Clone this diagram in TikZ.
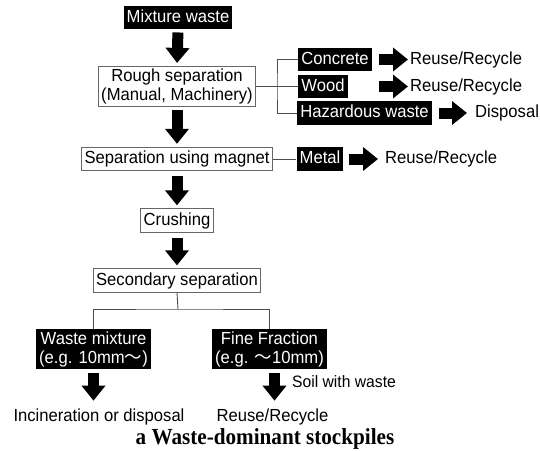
\documentclass[tikz,border=0pt]{standalone}
\usepackage{fontspec}
\setmainfont[FakeStretch=0.95]{Liberation Sans}
\newfontfamily\capfont[FakeStretch=0.92]{Liberation Serif}
\newfontfamily\cjk{Noto Sans CJK JP}
\usetikzlibrary{arrows.meta}
\newcommand{\wv}{{\cjk ～}}
\begin{document}
\begin{tikzpicture}[x=1pt,y=-1pt,
  every node/.style={font=\fontsize{17.5}{19}\selectfont},
  blackbox/.style={fill=black,text=white,inner xsep=3pt,inner ysep=3.5pt,text height=13pt,text depth=3.5pt,align=center},
  blackbox2/.style={fill=black,text=white,inner xsep=3pt,inner ysep=2.5pt,align=center},
  whitebox/.style={draw=black!60,line width=0.8pt,fill=white,inner xsep=3pt,inner ysep=3.5pt,text height=13pt,text depth=3.5pt,align=center},
  whitebox2/.style={draw=black!60,line width=0.8pt,fill=white,inner xsep=3pt,inner ysep=2.5pt,align=center},
  plain/.style={inner xsep=0pt,inner ysep=2pt},
  blockdown/.style={line width=11pt,-{Triangle[width=23pt,length=15pt]},shorten <=3pt,shorten >=3pt},
  blockright/.style={line width=11pt,-{Triangle[width=23pt,length=15pt]}},
  thin/.style={draw=black!70,line width=0.9pt}
]
\useasboundingbox (0,0) rectangle (540,450);
% main column
\node[blackbox] (mix) at (178,17.5) {Mixture waste};
\node[whitebox2] (rough) at (177,86.5) {Rough separation\\(Manual, Machinery)};
\node[whitebox] (magnet) at (177,159) {Separation using magnet};
\node[whitebox] (crush) at (177,220.5) {Crushing};
\node[whitebox] (second) at (177,280.5) {Secondary separation};
% side branches
\node[blackbox] (concrete) at (335,59.5) {Concrete};
\node[blackbox] (wood) at (323,86.5) {Wood};
\node[blackbox] (haz) at (364.5,113) {Hazardous waste};
\node[plain,anchor=west] (rr1) at (410,59.5) {Reuse/Recycle};
\node[plain,anchor=west] (rr2) at (410,86.5) {Reuse/Recycle};
\node[plain,anchor=west] (disp) at (475,113) {Disposal};
\node[blackbox] (metal) at (320,159) {Metal};
\node[plain,anchor=west] (rr3) at (385,159) {Reuse/Recycle};
% bottom
\node[blackbox2] (wmix) at (93.5,349) {Waste mixture\\(e.g. 10mm\wv)};
\node[blackbox2] (fine) at (269.5,349) {Fine Fraction\\(e.g. \wv10mm)};
\node[plain] (incin) at (99,417) {Incineration or disposal};
\node[plain] (rr4) at (272.5,417) {Reuse/Recycle};
\node[plain,anchor=west,font=\fontsize{16.5}{18}\selectfont] (soil) at (292,382) {Soil with waste};
\node[inner sep=0pt,font=\capfont\bfseries\fontsize{23}{25}\selectfont] (cap) at (265,439) {a Waste-dominant stockpiles};
% thin connectors
\coordinate (bus) at (277,86.5);
\draw[thin] (rough.east) -- (wood.west);
\draw[thin] (concrete.west) -| (bus) |- (haz.west);
\draw[thin] (magnet.east) -- (metal.west);
\coordinate (split) at (178,309);
\draw[thin] (second.south) -- (split);
\draw[thin] (wmix.north) |- (split) -| (fine.north);
% block arrows
\draw[blockdown] (mix.south) -- (rough.north);
\draw[blockdown] (rough.south) -- (magnet.north);
\draw[blockdown,shorten <=5pt] (magnet.south) -- (crush.north);
\draw[blockdown,shorten <=5pt] (crush.south) -- (second.north);
\draw[blockdown,shorten <=4pt,shorten >=6pt] (wmix.south) -- (wmix.south |- incin.north);
\draw[blockdown,shorten <=4pt,shorten >=6pt] ([xshift=5pt]fine.south) -- ([xshift=5pt]fine.south |- rr4.north);
\draw[blockright,shorten <=7pt,shorten >=2pt] (concrete.east) -- (rr1.west);
\draw[blockright,shorten <=31pt,shorten >=2pt] (wood.east) -- (rr2.west);
\draw[blockright,shorten <=7pt,shorten >=8pt] (haz.east) -- (disp.west);
\draw[blockright,shorten <=5pt,shorten >=7pt] (metal.east) -- (rr3.west);
\end{tikzpicture}
\end{document}
